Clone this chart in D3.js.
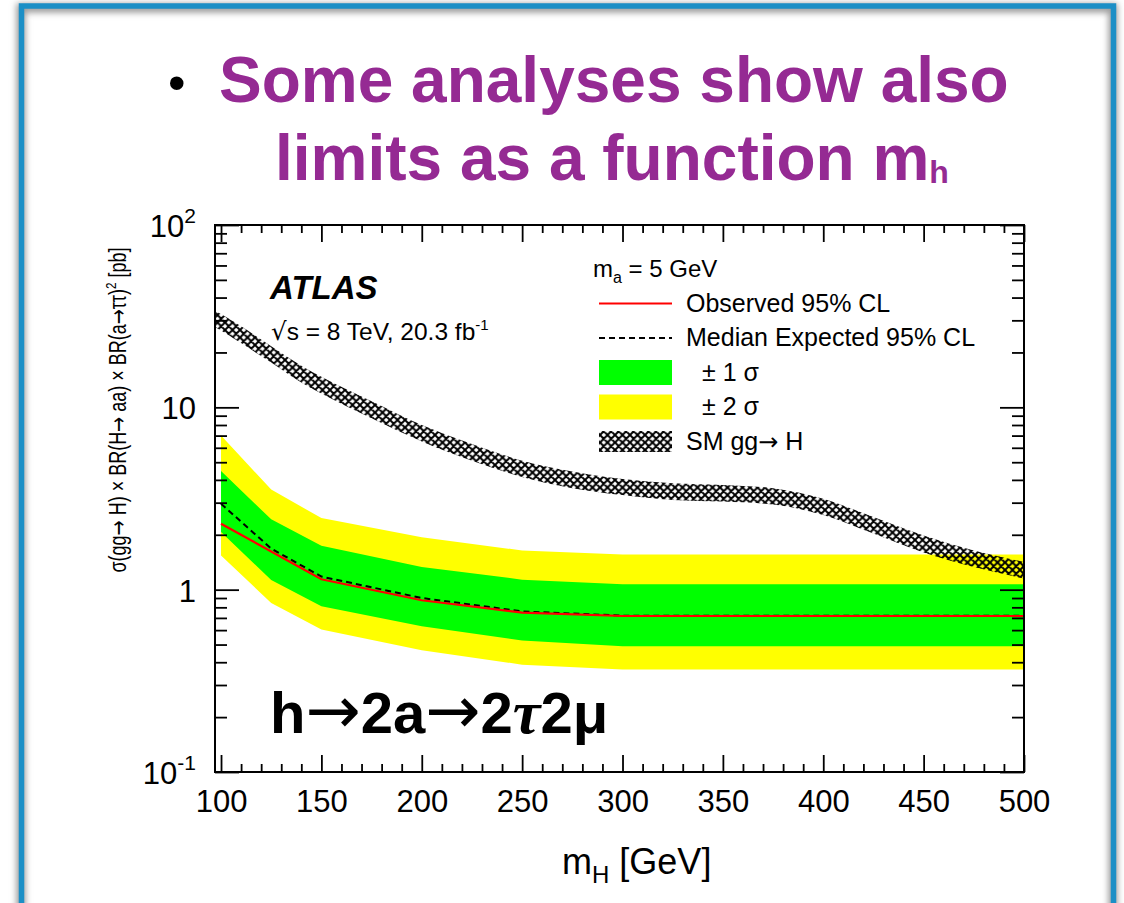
<!DOCTYPE html>
<html>
<head>
<meta charset="utf-8">
<script src="https://cdn.jsdelivr.net/npm/d3@7"></script>
<style>
  body { margin: 0; background: #fff; }
  svg { display: block; font-family: "Liberation Sans", Arial, Helvetica, sans-serif; }
</style>
</head>
<body>
<script>
// limit points, m_H in GeV, cross-section limits in pb
var masses       = [100, 125, 150, 200, 250, 300, 350, 400, 450, 500];
var observed     = [2.30, 1.62, 1.14, 0.875, 0.748, 0.717, 0.717, 0.717, 0.717, 0.717];
var expected     = [2.96, 1.68, 1.18, 0.90, 0.76, 0.72, 0.72, 0.72, 0.72, 0.72];
var oneSigmaUp   = [4.47, 2.43, 1.74, 1.33, 1.135, 1.07, 1.07, 1.07, 1.07, 1.07];
var oneSigmaDown = [2.07, 1.13, 0.81, 0.63, 0.527, 0.49, 0.49, 0.49, 0.49, 0.49];
var twoSigmaUp   = [7.0, 3.54, 2.47, 1.94, 1.64, 1.56, 1.56, 1.56, 1.56, 1.56];
var twoSigmaDown = [1.54, 0.845, 0.605, 0.465, 0.388, 0.365, 0.365, 0.365, 0.365, 0.365];

// SM gg->H cross-section band
var smMasses = [97, 100, 110, 125, 140, 150, 175, 200, 225, 250, 275, 300, 325, 350, 375, 400, 425, 450, 475, 500];
var smHigh   = [33.9, 32.5, 27.8, 21.6, 16.9, 14.7, 10.8, 8.0, 6.3, 5.1, 4.45, 4.05, 3.83, 3.75, 3.6, 3.15, 2.5, 1.98, 1.64, 1.42];
var smLow    = [27.5, 26.4, 22.5, 17.6, 13.7, 11.9, 8.7, 6.5, 5.1, 4.15, 3.6, 3.3, 3.1, 3.04, 2.93, 2.57, 2.03, 1.6, 1.33, 1.15];

var xMajorTicks = [100, 150, 200, 250, 300, 350, 400, 450, 500];
var yMajorTicks = [0.1, 1, 10, 100];
var yTickBase   = ["10", "1", "10", "10"];
var yTickExp    = ["-1", "", "", "2"];

var legendLabels = ["Observed 95% CL", "Median Expected 95% CL", "\u00B1 1 \u03C3", "\u00B1 2 \u03C3", "SM gg"];

var width = 1124, height = 903;
var frame = {left: 215, right: 1024, top: 225, bottom: 772};
var purple = "#952a93";
var arrowFont = "DejaVu Sans, sans-serif";

var svg = d3.select("body")
            .append("svg")
            .attr("width", width)
            .attr("height", height);

var defs = svg.append("defs");

defs.append("filter")
    .attr("id", "blur")
    .attr("x", "-10%").attr("y", "-10%")
    .attr("width", "120%").attr("height", "120%")
  .append("feGaussianBlur")
    .attr("stdDeviation", 3);

var hatch = defs.append("pattern")
    .attr("id", "hatch")
    .attr("patternUnits", "userSpaceOnUse")
    .attr("width", 7.5)
    .attr("height", 7.5);
hatch.append("path")
    .attr("d", "M0,0L7.5,7.5M7.5,0L0,7.5M-1,1L1,-1M6.5,8.5L8.5,6.5M-1,6.5L1,8.5M6.5,-1L8.5,1")
    .attr("stroke", "#000")
    .attr("stroke-width", 2)
    .attr("fill", "none");

defs.append("clipPath")
    .attr("id", "plot-clip")
  .append("rect")
    .attr("x", frame.left)
    .attr("y", frame.top)
    .attr("width", frame.right - frame.left)
    .attr("height", frame.bottom - frame.top);

// slide border with soft shadow
svg.append("rect")
    .attr("x", 21).attr("y", 8)
    .attr("width", 1092).attr("height", 1000)
    .attr("fill", "none")
    .attr("stroke", "#9a9a9a")
    .attr("stroke-width", 9)
    .attr("filter", "url(#blur)");
svg.append("rect")
    .attr("x", 21.5).attr("y", 6)
    .attr("width", 1092).attr("height", 1000)
    .attr("fill", "none")
    .attr("stroke", "#1b8fc6")
    .attr("stroke-width", 5.5);

// slide title
svg.append("text")
    .attr("x", 168).attr("y", 100)
    .attr("font-size", 50)
    .attr("fill", "#000")
    .text("\u2022");
svg.append("text")
    .attr("x", 219).attr("y", 102)
    .attr("font-size", 64)
    .attr("font-weight", "bold")
    .attr("fill", purple)
    .text("Some analyses show also");
var t2 = svg.append("text")
    .attr("x", 275).attr("y", 180)
    .attr("font-size", 64)
    .attr("font-weight", "bold")
    .attr("fill", purple);
t2.append("tspan").text("limits as a function m");
t2.append("tspan").attr("font-size", 32).attr("dy", 3).text("h");

// scales
var x = d3.scaleLinear().domain([97, 500]).range([frame.left, frame.right]);
var y = d3.scaleLog().domain([0.1, 100]).range([frame.bottom, frame.top]);

var limits = masses.map(function(m, i) {
  return {m: m, obs: observed[i], exp: expected[i],
          s1u: oneSigmaUp[i], s1d: oneSigmaDown[i],
          s2u: twoSigmaUp[i], s2d: twoSigmaDown[i]};
});
var sm = smMasses.map(function(m, i) { return {m: m, hi: smHigh[i], lo: smLow[i]}; });

var plot = svg.append("g").attr("clip-path", "url(#plot-clip)");

plot.append("path")
    .datum(limits)
    .attr("fill", "#ffff00")
    .attr("d", d3.area().x(function(d) { return x(d.m); })
                        .y0(function(d) { return y(d.s2d); })
                        .y1(function(d) { return y(d.s2u); }));
plot.append("path")
    .datum(limits)
    .attr("fill", "#00ff00")
    .attr("d", d3.area().x(function(d) { return x(d.m); })
                        .y0(function(d) { return y(d.s1d); })
                        .y1(function(d) { return y(d.s1u); }));
plot.append("path")
    .datum(limits)
    .attr("fill", "none")
    .attr("stroke", "#000")
    .attr("stroke-width", 2)
    .attr("stroke-dasharray", "6,4")
    .attr("d", d3.line().x(function(d) { return x(d.m); })
                        .y(function(d) { return y(d.exp); }));
plot.append("path")
    .datum(limits)
    .attr("fill", "none")
    .attr("stroke", "#ff0000")
    .attr("stroke-width", 2.2)
    .attr("d", d3.line().x(function(d) { return x(d.m); })
                        .y(function(d) { return y(d.obs); }));
plot.append("path")
    .datum(sm)
    .attr("fill", "url(#hatch)")
    .attr("d", d3.area().curve(d3.curveMonotoneX)
                        .x(function(d) { return x(d.m); })
                        .y0(function(d) { return y(d.lo); })
                        .y1(function(d) { return y(d.hi); }));

// axes, ticks inside the frame
var xMinor = d3.range(100, 501, 10).filter(function(v) { return v % 50 !== 0; });
var yMinor = [];
[0.1, 1, 10].forEach(function(dec) {
  for (var k = 2; k <= 9; k++) yMinor.push(dec * k);
});

function styleAxis(g) {
  g.select(".domain").remove();
  g.selectAll(".tick line").attr("stroke", "#000").attr("stroke-width", 1.8);
}

svg.append("g").attr("transform", "translate(0," + frame.bottom + ")")
    .call(d3.axisBottom(x).tickValues(xMinor).tickSize(-8).tickFormat(""))
    .call(styleAxis);
svg.append("g").attr("transform", "translate(0," + frame.top + ")")
    .call(d3.axisTop(x).tickValues(xMinor).tickSize(-8).tickFormat(""))
    .call(styleAxis);
svg.append("g").attr("transform", "translate(0," + frame.top + ")")
    .call(d3.axisTop(x).tickValues(xMajorTicks).tickSize(-17).tickFormat(""))
    .call(styleAxis);
var xAxis = svg.append("g").attr("transform", "translate(0," + frame.bottom + ")")
    .call(d3.axisBottom(x).tickValues(xMajorTicks).tickSize(-17).tickPadding(18)
            .tickFormat(d3.format("d")))
    .call(styleAxis);
xAxis.selectAll("text")
    .attr("font-size", 31)
    .attr("font-family", "Liberation Sans, Arial, sans-serif")
    .attr("fill", "#000");

svg.append("g").attr("transform", "translate(" + frame.left + ",0)")
    .call(d3.axisLeft(y).tickValues(yMinor).tickSize(-12).tickFormat(""))
    .call(styleAxis);
svg.append("g").attr("transform", "translate(" + frame.left + ",0)")
    .call(d3.axisLeft(y).tickValues(yMajorTicks).tickSize(-24).tickFormat(""))
    .call(styleAxis);
svg.append("g").attr("transform", "translate(" + frame.right + ",0)")
    .call(d3.axisRight(y).tickValues(yMinor).tickSize(-12).tickFormat(""))
    .call(styleAxis);
svg.append("g").attr("transform", "translate(" + frame.right + ",0)")
    .call(d3.axisRight(y).tickValues(yMajorTicks).tickSize(-24).tickFormat(""))
    .call(styleAxis);

// y tick labels with exponents
yMajorTicks.forEach(function(v, i) {
  var t = svg.append("text")
      .attr("x", 196)
      .attr("y", y(v) + 12)
      .attr("text-anchor", "end")
      .attr("font-size", 31)
      .attr("fill", "#000");
  t.append("tspan").text(yTickBase[i]);
  if (yTickExp[i]) {
    t.append("tspan").attr("font-size", 21).attr("dy", -14).text(yTickExp[i]);
  }
});

// frame
svg.append("rect")
    .attr("x", frame.left).attr("y", frame.top)
    .attr("width", frame.right - frame.left)
    .attr("height", frame.bottom - frame.top)
    .attr("fill", "none")
    .attr("stroke", "#000")
    .attr("stroke-width", 2);

// axis titles
var xt = svg.append("text")
    .attr("x", 562).attr("y", 874)
    .attr("font-size", 36)
    .attr("fill", "#000");
xt.append("tspan").text("m");
xt.append("tspan").attr("font-size", 24).attr("dy", 9).text("H");
xt.append("tspan").attr("dy", -9).text(" [GeV]");

var yt = svg.append("text")
    .attr("transform", "translate(126,410) rotate(-90)")
    .attr("text-anchor", "middle")
    .attr("font-size", 23)
    .attr("textLength", 325)
    .attr("lengthAdjust", "spacingAndGlyphs")
    .attr("fill", "#000");
yt.append("tspan").text("\u03C3(gg");
yt.append("tspan").attr("font-family", arrowFont).text("\u2192");
yt.append("tspan").text(" H) \u00D7 BR(H");
yt.append("tspan").attr("font-family", arrowFont).text("\u2192");
yt.append("tspan").text(" aa) \u00D7 BR(a");
yt.append("tspan").attr("font-family", arrowFont).text("\u2192");
yt.append("tspan").text("\u03C4\u03C4)");
yt.append("tspan").attr("font-size", 15).attr("dy", -10).text("2");
yt.append("tspan").attr("dy", 10).text(" [pb]");

// ATLAS label
svg.append("text")
    .attr("x", 270).attr("y", 299)
    .attr("font-size", 33)
    .attr("font-weight", "bold")
    .attr("font-style", "italic")
    .attr("fill", "#000")
    .text("ATLAS");
var lumi = svg.append("text")
    .attr("x", 271).attr("y", 340)
    .attr("font-size", 24.5)
    .attr("fill", "#000");
lumi.append("tspan").attr("font-family", arrowFont).text("\u221A");
lumi.append("tspan").text("s = 8 TeV, 20.3 fb");
lumi.append("tspan").attr("font-size", 15).attr("dy", -10).text("-1");

// legend
var lg = svg.append("g");
var hdr = lg.append("text")
    .attr("x", 593).attr("y", 277)
    .attr("font-size", 24)
    .attr("fill", "#000");
hdr.append("tspan").text("m");
hdr.append("tspan").attr("font-size", 16).attr("dy", 6).text("a");
hdr.append("tspan").attr("dy", -6).text(" = 5 GeV");

var rowY = function(i) { return 303.5 + i * 34.5; };
lg.append("line")
    .attr("x1", 599).attr("x2", 672)
    .attr("y1", rowY(0)).attr("y2", rowY(0))
    .attr("stroke", "#ff0000").attr("stroke-width", 2.2);
lg.append("line")
    .attr("x1", 599).attr("x2", 672)
    .attr("y1", rowY(1)).attr("y2", rowY(1))
    .attr("stroke", "#000").attr("stroke-width", 2)
    .attr("stroke-dasharray", "6,4");
lg.append("rect")
    .attr("x", 599).attr("y", rowY(2) - 12.5)
    .attr("width", 73).attr("height", 25)
    .attr("fill", "#00ff00");
lg.append("rect")
    .attr("x", 599).attr("y", rowY(3) - 12.5)
    .attr("width", 73).attr("height", 25)
    .attr("fill", "#ffff00");
lg.append("rect")
    .attr("x", 599).attr("y", rowY(4) - 10.5)
    .attr("width", 73).attr("height", 21)
    .attr("fill", "url(#hatch)");

legendLabels.forEach(function(lbl, i) {
  var t = lg.append("text")
      .attr("x", (i === 2 || i === 3) ? 702 : 686)
      .attr("y", rowY(i) + 8)
      .attr("font-size", 25)
      .attr("fill", "#000")
      .text(lbl);
  if (i === 4) {
    t.append("tspan").attr("font-family", arrowFont).attr("font-size", 24).text("\u2192");
    t.append("tspan").text(" H");
  }
});

// channel label
var ch = svg.append("text")
    .attr("x", 270).attr("y", 733)
    .attr("font-size", 58)
    .attr("font-weight", "bold")
    .attr("fill", "#000");
ch.append("tspan").text("h");
ch.append("tspan").attr("font-family", arrowFont).attr("font-weight", "normal").attr("font-size", 66).text("\u2192");
ch.append("tspan").text("2a");
ch.append("tspan").attr("font-family", arrowFont).attr("font-weight", "normal").attr("font-size", 66).text("\u2192");
ch.append("tspan").text("2");
ch.append("tspan")
    .attr("font-family", "Liberation Serif, DejaVu Serif, serif")
    .attr("font-style", "italic")
    .attr("font-size", 62)
    .text("\u03C4");
ch.append("tspan").text("2\u03BC");
</script>
</body>
</html>
